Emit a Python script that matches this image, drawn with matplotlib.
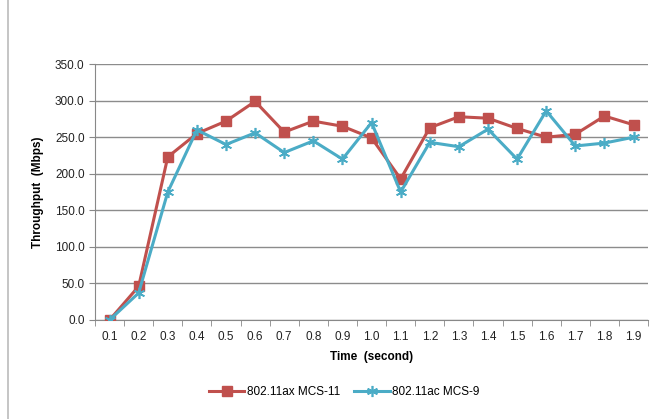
import numpy as np
import matplotlib
matplotlib.use('Agg')
import matplotlib.pyplot as plt
from matplotlib.lines import Line2D

times = ['0.1', '0.2', '0.3', '0.4', '0.5', '0.6', '0.7', '0.8', '0.9', '1.0',
         '1.1', '1.2', '1.3', '1.4', '1.5', '1.6', '1.7', '1.8', '1.9']
ax_mcs11 = [0, 46, 223, 255, 272, 299, 257, 272, 265, 249,
            193, 263, 278, 276, 262, 250, 254, 279, 267]
ac_mcs9 = [0, 37, 175, 260, 240, 256, 229, 245, 220, 270,
           175, 243, 237, 261, 220, 286, 238, 242, 250]

plt.rcParams['font.family'] = ['Liberation Sans', 'DejaVu Sans']

fig = plt.figure(figsize=(6.62, 4.19), dpi=100)
ax = fig.add_axes([0.1435, 0.2363, 0.8355, 0.6107])

x = np.arange(len(times))
ax.plot(x, ax_mcs11, color='#C0504D', lw=2.2, marker='s', ms=7.5,
        label='802.11ax MCS-11', zorder=3)
ax.plot(x, ac_mcs9, color='#4BACC6', lw=2.2, marker=(6, 2, 0), ms=8, mew=1.2,
        label='802.11ac MCS-9', zorder=4)

ax.set_xlim(-0.5, len(times) - 0.5)
ax.set_ylim(0, 350)
ax.set_yticks(np.arange(0, 351, 50))
ax.set_yticklabels(['%.1f' % v for v in np.arange(0, 351, 50)])
ax.set_xticks(x)
ax.set_xticklabels(times)
ax.set_xticks(np.arange(-0.5, len(times)), minor=True)
ax.tick_params(axis='x', which='major', length=0, pad=8, labelsize=8.5, colors='#222222')
ax.tick_params(axis='x', which='minor', length=4, color='#888888')
ax.tick_params(axis='y', length=4, color='#888888', labelsize=8.5, colors='#222222')

ax.grid(axis='y', color='#8c8c8c', lw=1)
ax.set_axisbelow(True)
for s in ['top', 'right']:
    ax.spines[s].set_visible(False)
for s in ['left', 'bottom']:
    ax.spines[s].set_color('#888888')

ax.set_xlabel('Time  (second)', fontsize=8.5, fontweight='bold', labelpad=6)
ax.set_ylabel('Throughput  (Mbps)', fontsize=8.5, fontweight='bold', labelpad=8)

fig.legend(loc='center', bbox_to_anchor=(0.52, 0.065), ncol=2, frameon=False,
           fontsize=8.5, handlelength=3, columnspacing=1.2, handletextpad=0.2)

fig.add_artist(Line2D([0.012, 0.012], [0, 1], transform=fig.transFigure,
                      color='#bbbbbb', lw=1.2))

fig.savefig('out.png', dpi=100)
